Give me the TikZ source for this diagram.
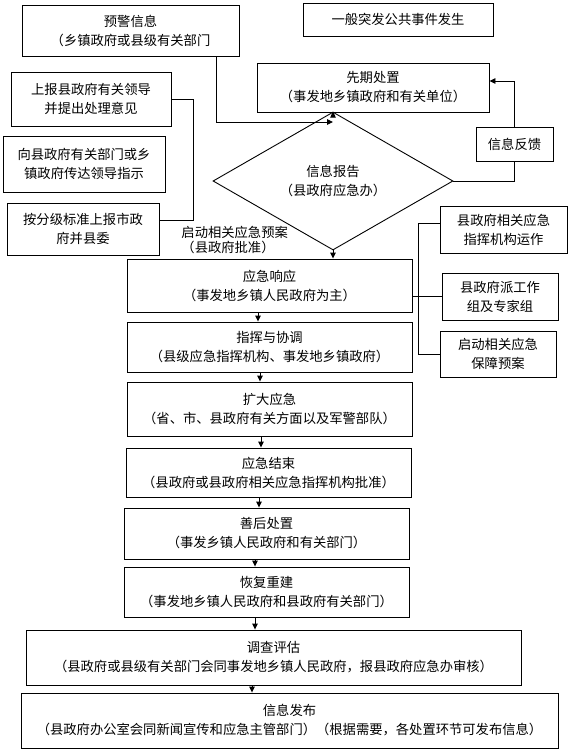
\documentclass[tikz,border=0pt]{standalone}
\usepackage{fontspec}
\setmainfont{Noto Sans CJK SC}
\usetikzlibrary{arrows.meta,shapes.geometric}
\begin{document}
\begin{tikzpicture}[x=1pt,y=-1pt,
  line width=0.9pt,
  box/.style={draw, line width=0.9pt, align=center, inner sep=0pt,
    font=\fontsize{13.3pt}{19pt}\selectfont},
  lbl/.style={align=left, inner sep=0pt, font=\fontsize{13.3pt}{15pt}\selectfont},
  arr/.style={-{Triangle[length=6pt,width=5.5pt]}}]
\useasboundingbox (0,0) rectangle (573,752);

% nodes
\node[box, minimum width=190pt, minimum height=33pt] (top) at (398,19.5) {一般突发公共事件发生};
\node[box, minimum width=217pt, minimum height=51pt] (yj) at (130.5,30.5) {预警信息\\（乡镇政府或县级有关部门};
\node[box, minimum width=232pt, minimum height=49pt] (xq) at (373,87.5) {先期处置\\（事发地乡镇政府和有关单位）};
\node[box, minimum width=160pt, minimum height=54pt] (sb) at (91,99) {上报县政府有关领导\\并提出处理意见};
\node[box, minimum width=162pt, minimum height=56pt] (xx) at (84,164) {向县政府有关部门或乡\\镇政府传达领导指示};
\node[box, minimum width=152pt, minimum height=52pt] (af) at (83,229) {按分级标准上报市政\\府并县委};
\node[box, minimum width=77pt, minimum height=34pt] (fk) at (514.5,144) {信息反馈};
\node[box, shape=diamond, minimum width=240pt, minimum height=90pt] (dm) at (333,181) {信息报告\\（县政府应急办）};
\node[lbl, anchor=west] (qd) at (181,239.5) {启动相关应急预案\\（县政府批准）};
\node[box, minimum width=285pt, minimum height=53pt] (xy) at (269.5,285.5) {应急响应\\（事发地乡镇人民政府为主）};
\node[box, minimum width=285pt, minimum height=50pt] (zh) at (269.5,347) {指挥与协调\\（县级应急指挥机构、事发地乡镇政府）};
\node[box, minimum width=127pt, minimum height=47pt] (r1) at (503.5,229.5) {县政府相关应急\\指挥机构运作};
\node[box, minimum width=116pt, minimum height=47pt] (r2) at (500,296.5) {县政府派工作\\组及专家组};
\node[box, minimum width=116pt, minimum height=46pt] (r3) at (498,354) {启动相关应急\\保障预案};
\node[box, minimum width=285pt, minimum height=54pt] (kd) at (269.5,409) {扩大应急\\（省、市、县政府有关方面以及军警部队）};
\node[box, minimum width=285pt, minimum height=49pt] (js) at (268.5,472.5) {应急结束\\（县政府或县政府相关应急指挥机构批准）};
\node[box, minimum width=285pt, minimum height=51pt] (sh) at (266.5,533.5) {善后处置\\（事发乡镇人民政府和有关部门）};
\node[box, minimum width=285pt, minimum height=50pt] (hf) at (266.5,592) {恢复重建\\（事发地乡镇人民政府和县政府有关部门）};
\node[box, minimum width=495pt, minimum height=55pt] (dc) at (273.5,657.5) {调查评估\\（县政府或县级有关部门会同事发地乡镇人民政府，报县政府应急办审核）};
\node[box, minimum width=537pt, minimum height=55pt] (fb) at (289.5,720.5) {信息发布\\（县政府办公室会同新闻宣传和应急主管部门）（根据需要，各处置环节可发布信息）};

% helper coordinates
\coordinate (j1) at (333,122);
\coordinate (bx) at (418,0);
\coordinate (a1) at (258,0);
\coordinate (a2) at (260,0);
\coordinate (a3) at (261,0);
\coordinate (a4) at (259,0);
\coordinate (a5) at (255,0);
\coordinate (a6) at (255,0);
\coordinate (a7) at (252,0);

% connectors
\draw[arr] ([xshift=-23pt]yj.south east) |- (j1);
\draw[arr] (xq.south -| dm.north) -- (dm.north);
\draw (dm.east) -| (fk.south);
\draw[arr] (fk.north) |- ([yshift=6.5pt]xq.east);
\draw (sb.east) -- ++(22,0) |- ([yshift=9pt]af.east);
\draw[arr] (dm.south) -- (dm.south |- xy.north);
\draw ([yshift=6.5pt]r1.west) -| (bx |- r3.west) -- (r3.west);
\draw (xy.east |- r2.west) -- (r2.west);
\draw[arr] (xy.south -| a1) -- (zh.north -| a1);
\draw[arr] (zh.south -| a2) -- (kd.north -| a2);
\draw[arr] (kd.south -| a3) -- (js.north -| a3);
\draw[arr] (js.south -| a4) -- (sh.north -| a4);
\draw[arr] (sh.south -| a5) -- (hf.north -| a5);
\draw[arr] (hf.south -| a6) -- (dc.north -| a6);
\draw[arr] (dc.south -| a7) -- (fb.north -| a7);
\end{tikzpicture}
\end{document}
